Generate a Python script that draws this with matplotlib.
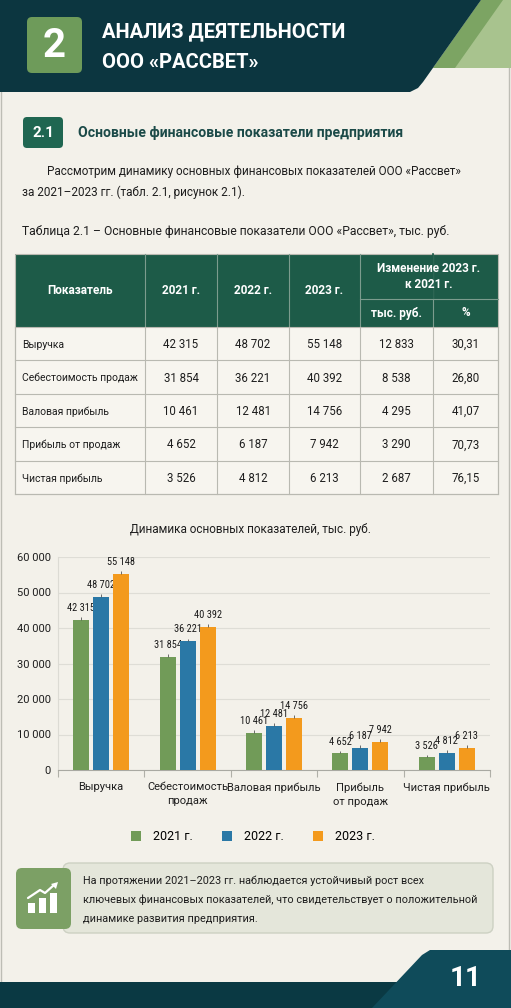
import matplotlib
matplotlib.use("Agg")
import matplotlib.pyplot as plt
import numpy as np
from matplotlib.patches import Rectangle, Polygon, FancyBboxPatch
from matplotlib import font_manager

plt.rcParams['font.family'] = ['Roboto', 'DejaVu Sans']

# narrow face for the squeezed labels, if the system has one
installed = {f.name for f in font_manager.fontManager.ttflist}
narrow = None
for cand in ["Liberation Sans Narrow", "Roboto Condensed", "Open Sans Condensed", "DejaVu Sans Condensed"]:
    if cand in installed:
        narrow = cand
        break

# data
categories = ["Выручка", "Себестоимость\nпродаж", "Валовая прибыль", "Прибыль\nот продаж", "Чистая прибыль"]
row_names = ["Выручка", "Себестоимость продаж", "Валовая прибыль", "Прибыль от продаж", "Чистая прибыль"]
years = ["2021 г.", "2022 г.", "2023 г."]
v2021 = [42315, 31854, 10461, 4652, 3526]
v2022 = [48702, 36221, 12481, 6187, 4812]
v2023 = [55148, 40392, 14756, 7942, 6213]
change_abs = [12833, 8538, 4295, 3290, 2687]
change_pct = [30.31, 26.80, 41.07, 70.73, 76.15]
y_ticks = [0, 10000, 20000, 30000, 40000, 50000, 60000]

bar_colors = ["#719b58", "#2a78a6", "#f39a1d"]
dark = "#0c3640"
table_green = "#1d5b48"
page = "#f3f1ea"
txt = "#1e1e1e"


def fmt(v):
    return f"{v:,}".replace(",", " ")


W, H = 511, 1008
fig = plt.figure(figsize=(W / 100, H / 100), dpi=100)
fig.patch.set_facecolor(page)

bg = fig.add_axes([0, 0, 1, 1])
bg.set_xlim(0, W)
bg.set_ylim(H, 0)
bg.axis("off")

# page border
bg.add_patch(Rectangle((1, 1), W - 3, H - 4, fill=False, ec="#bdbdb5", lw=1))

# header band
bg.add_patch(Polygon([(0, 0), (481, 0), (433, 68), (511, 68), (511, 0)], closed=True,
                     fc="#a8c38e", ec="none"))
bg.add_patch(Polygon([(481, 0), (503, 0), (455, 68), (433, 68)], closed=True,
                     fc="#7ca463", ec="none"))
bg.add_patch(Polygon([(0, 0), (481, 0), (423, 82), (418, 88), (410, 92), (0, 92)],
                     closed=True, fc=dark, ec="none"))
bg.add_patch(FancyBboxPatch((27, 17), 55, 56, boxstyle="round,pad=0,rounding_size=5",
                            fc="#6e9b5a", ec="none"))
bg.text(54.5, 46, "2", color="white", fontsize=29, fontweight="bold", ha="center", va="center")
bg.text(102, 32, "АНАЛИЗ ДЕЯТЕЛЬНОСТИ", color="white", fontsize=14.5, fontweight="bold",
        ha="left", va="center")
bg.text(102, 62, "ООО «РАССВЕТ»", color="white", fontsize=14.5, fontweight="bold",
        ha="left", va="center")

# section heading
bg.add_patch(FancyBboxPatch((23, 117), 40, 31, boxstyle="round,pad=0,rounding_size=4",
                            fc="#1f6651", ec="none"))
bg.text(43, 133, "2.1", color="white", fontsize=11, fontweight="bold", ha="center", va="center")
bg.text(78, 133, "Основные финансовые показатели предприятия", color="#1b4a48",
        fontsize=10.1, fontweight="bold", ha="left", va="center")

bg.text(47, 172, "Рассмотрим динамику основных финансовых показателей ООО «Рассвет»",
        fontsize=8.5, color=txt, ha="left", va="center")
bg.text(22, 192, "за 2021–2023 гг. (табл. 2.1, рисунок 2.1).",
        fontsize=8.5, color=txt, ha="left", va="center")
bg.text(22, 231, "Таблица 2.1 – Основные финансовые показатели ООО «Рассвет», тыс. руб.",
        fontsize=8.7, color=txt, ha="left", va="center")

# table
cx = [15, 145, 217, 289, 360, 433, 498]
ty0, ty_mid, ty1 = 254, 299, 327
ry = [327, 360, 394, 427, 461, 494]
bg.add_patch(Rectangle((cx[0], ty0), cx[-1] - cx[0], ty1 - ty0, fc=table_green, ec="none"))
bg.add_patch(Rectangle((cx[0], ty1), cx[-1] - cx[0], ry[-1] - ty1, fc="#f7f5ef", ec="none"))
hl = "#7c9c8e"
for x in cx[1:-1]:
    bg.plot([x, x], [ty0, ty1], color=hl, lw=0.8)
bg.plot([cx[5], cx[5]], [ty0, ty_mid], color=table_green, lw=1.2)
bg.plot([cx[4], cx[6]], [ty_mid, ty_mid], color=hl, lw=0.8)
grid_c = "#b9b9b1"
for y in ry:
    bg.plot([cx[0], cx[-1]], [y, y], color=grid_c, lw=0.8)
for x in cx:
    bg.plot([x, x], [ty1, ry[-1]], color=grid_c, lw=0.8)
bg.add_patch(Rectangle((cx[0], ty0), cx[-1] - cx[0], ry[-1] - ty0, fill=False, ec=grid_c, lw=0.8))

hdr = dict(color="white", fontsize=8.5, fontweight="bold", ha="center", va="center")
bg.text((cx[0] + cx[1]) / 2, 291, "Показатель", **hdr)
for i, yr in enumerate(years):
    bg.text((cx[i + 1] + cx[i + 2]) / 2, 291, yr, **hdr)
bg.text((cx[4] + cx[6]) / 2, 268, "Изменение 2023 г.", **hdr)
bg.text((cx[4] + cx[6]) / 2, 285, "к 2021 г.", **hdr)
bg.text((cx[4] + cx[5]) / 2, 313, "тыс. руб.", **hdr)
bg.text((cx[5] + cx[6]) / 2, 313, "%", **hdr)

for r in range(len(row_names)):
    yc = (ry[r] + ry[r + 1]) / 2 + 1
    bg.text(22, yc, row_names[r], ha="left", fontsize=7.5, color=txt, va="center")
    vals = [fmt(v2021[r]), fmt(v2022[r]), fmt(v2023[r]), fmt(change_abs[r]),
            f"{change_pct[r]:.2f}".replace(".", ",")]
    for c, s in enumerate(vals):
        bg.text((cx[c + 1] + cx[c + 2]) / 2, yc, s, ha="center", fontsize=8.3, color=txt,
                va="center")

# chart
bg.text(251, 530, "Динамика основных показателей, тыс. руб.", fontsize=8.5,
        color=txt, ha="center", va="center")

ax = fig.add_axes([58 / W, 1 - 770 / H, (490 - 58) / W, (770 - 557) / H])
ax.set_facecolor("none")
x = np.arange(len(categories))
step, bw = 0.2315, 0.185
series = [v2021, v2022, v2023]
lab_font = [narrow, "Roboto"] if narrow else ["Roboto"]
lab_size = 7.5 if narrow else 6.2
for k, (vals, col) in enumerate(zip(series, bar_colors)):
    pos = x + (k - 1) * step
    ax.bar(pos, vals, width=bw, color=col, zorder=3)
    ax.vlines(pos, vals, np.array(vals) + 800, color="#555555", lw=0.6, zorder=3)
    for p, v in zip(pos, vals):
        ax.annotate(fmt(v), (p, v), xytext=(0, 5), textcoords="offset points",
                    ha="center", va="bottom", fontsize=lab_size, color="#1a1a1a",
                    family=lab_font)

ax.set_xlim(-0.5, len(categories) - 0.5)
ax.set_ylim(0, 60000)
ax.set_yticks(y_ticks)
ax.set_yticklabels([fmt(t) for t in y_ticks], fontsize=8, color=txt)
ax.set_xticks(x)
ax.set_xticklabels(categories, fontsize=8.0, color=txt, linespacing=1.5)
ax.set_xticks(np.arange(-0.5, len(categories)), minor=True)
ax.tick_params(axis="x", which="major", length=0, pad=9)
ax.tick_params(axis="x", which="minor", length=5, color="#b0b0a8", width=0.8)
ax.tick_params(axis="y", length=0, pad=5)
ax.grid(axis="y", color="#deddd6", lw=0.8, zorder=0)
for s in ["top", "right"]:
    ax.spines[s].set_visible(False)
ax.spines["left"].set_color("#dcdbd4")
ax.spines["bottom"].set_color("#a9a9a2")

handles = [Rectangle((0, 0), 1, 1, fc=c, ec="none") for c in bar_colors]
ax.legend(handles, years, loc="center", bbox_to_anchor=(253 / W, 1 - 837 / H),
          bbox_transform=fig.transFigure, ncol=3, frameon=False, fontsize=9,
          handlelength=0.8, handleheight=0.8, columnspacing=2.4, handletextpad=0.9)

# note box
bg.add_patch(FancyBboxPatch((63, 863), 430, 70, boxstyle="round,pad=0,rounding_size=7",
                            fc="#e4e6da", ec="#cdd1c3", lw=1))
bg.add_patch(FancyBboxPatch((16, 868), 55, 61, boxstyle="round,pad=0,rounding_size=6",
                            fc="#7ca065", ec="none"))
for bx, top in [(28, 903), (39, 898), (50, 893)]:
    bg.add_patch(Rectangle((bx, top), 7, 913 - top, fc="white", ec="none"))
bg.plot([28, 40, 45, 54], [898, 890, 893, 885], color="white", lw=1.6, solid_capstyle="round")
bg.add_patch(Polygon([(58, 882), (51, 884), (56, 889)], closed=True, fc="white", ec="none"))

note = ["На протяжении 2021–2023 гг. наблюдается устойчивый рост всех",
        "ключевых финансовых показателей, что свидетельствует о положительной",
        "динамике развития предприятия."]
for i, line in enumerate(note):
    bg.text(83, 881 + 19 * i, line, fontsize=7.8, color=txt, ha="left", va="center")

# footer
bg.add_patch(Rectangle((0, 982), W, 26, fc="#0a3943", ec="none"))
bg.add_patch(Polygon([(372, 1008), (422, 955), (430, 950), (511, 950), (511, 1008)],
                     closed=True, fc="#0f4b5a", ec="none"))
bg.text(466, 978, "11", color="white", fontsize=20, fontweight="bold", ha="center", va="center")

fig.savefig("out.png", dpi=100, facecolor=page)
